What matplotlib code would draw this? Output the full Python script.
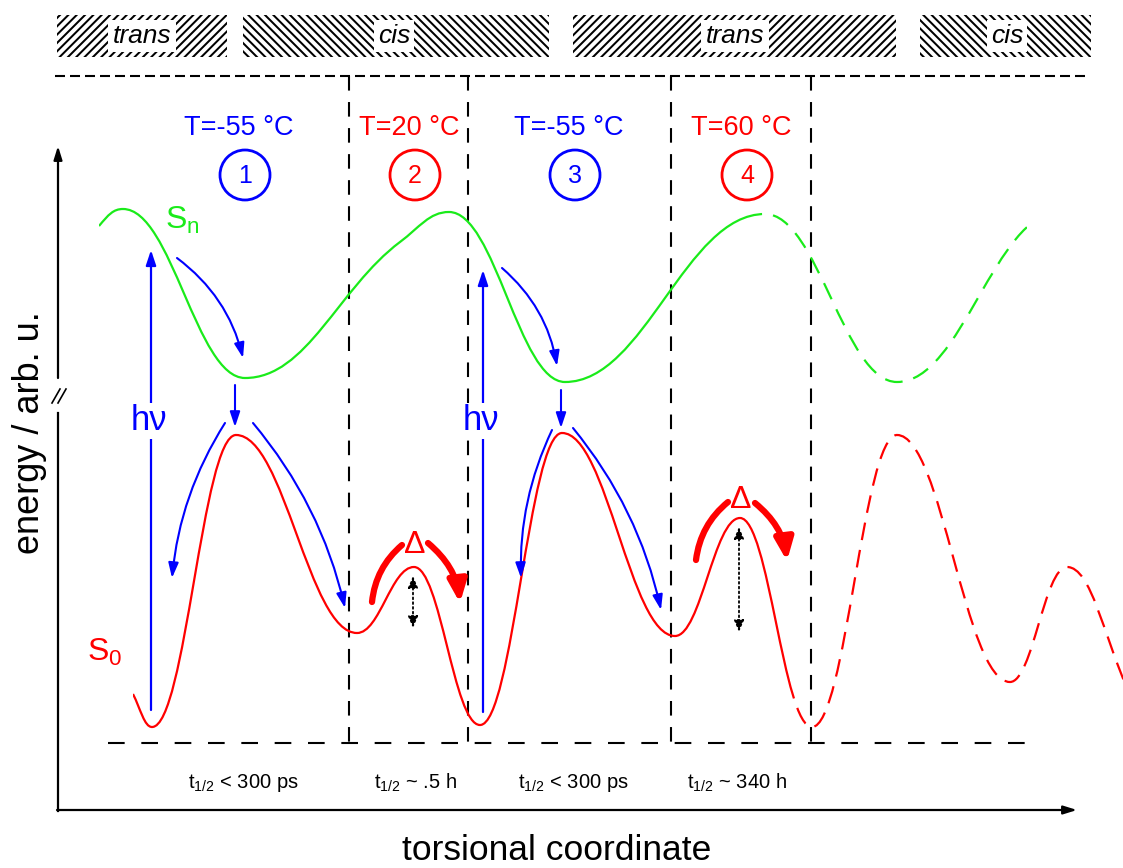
import numpy as np
import matplotlib
matplotlib.use('Agg')
import matplotlib.pyplot as plt
from matplotlib.path import Path
from matplotlib.patches import PathPatch, FancyArrowPatch, Rectangle, Circle, ArrowStyle

plt.rcParams['font.family'] = ['Liberation Sans', 'DejaVu Sans']
plt.rcParams['mathtext.fontset'] = 'custom'
plt.rcParams['mathtext.rm'] = 'Liberation Sans'
plt.rcParams['mathtext.it'] = 'Liberation Sans:italic'
plt.rcParams['hatch.linewidth'] = 1.45

W, H = 1123, 868

# ground state S0: knots (x, y) and tangent slope at each knot
s0_x = [133, 152, 236, 357, 414, 480, 562, 675, 740, 812, 897, 1010, 1067, 1128]
s0_y = [694, 727, 435, 633, 567, 725, 433, 636, 518, 727, 435, 682, 567, 690]
s0_slope = [2.0, 0, 0, 0, 0, 0, 0, 0, 0, 0, 0, 0, 0, 2.2]
s0_solid_end = 790

# excited state Sn
sn_x = [99, 123, 245, 400, 449, 565, 765, 897, 1060]
sn_y = [226, 209, 378, 242, 212, 382, 214, 382, 212]
sn_slope = [-1.2, 0, 0, -0.75, 0, 0, 0, 0, 0]
sn_solid_end = 752
sn_end = 1027

# switching steps
step_x = [245, 415, 575, 747]
step_num = ['1', '2', '3', '4']
step_temp = ['T=-55 °C', 'T=20 °C', 'T=-55 °C', 'T=60 °C']
step_color = ['blue', 'red', 'blue', 'red']
half_life = ['< 300 ps', '~ .5 h', '< 300 ps', '~ 340 h']
half_life_x = [243, 416, 573, 737]

# isomer bands on top
band_left = [57, 243, 573, 920]
band_right = [227, 549, 896, 1091]
band_label = ['trans', 'cis', 'trans', 'cis']
band_label_x = [142, 394, 735, 1007]
band_hatch = ['////', '\\\\\\\\', '////', '\\\\\\\\']

divider_x = [349, 468, 671, 811]

# excitation (h nu) positions and relaxation arrows
hv_x = [151, 483]
hv_bottom = [710, 712]
hv_top = [250, 270]
relax_sn = [((177, 258), (243, 358)), ((502, 268), (557, 366))]
relax_drop = [((235, 385), (235, 427)), ((561, 390), (561, 428))]
relax_left = [((225, 423), (172, 578)), ((552, 430), (521, 578))]
relax_right = [((253, 423), (345, 608)), ((573, 428), (661, 610))]

# thermal barriers crossed by heating
thermal_x = [415, 741]
thermal_top = [545, 500]
thermal_left = [((372, 602), (402, 545)), ((696, 560), (728, 502))]
thermal_right = [((428, 543), (460, 603)), ((755, 503), (787, 561))]
barrier_arrow = [((413, 576), (413, 628)), ((739, 527), (739, 632))]

GREEN = '#1aeb1a'

fig = plt.figure(figsize=(W / 100, H / 100), dpi=100)
ax = fig.add_axes([0, 0, 1, 1])
ax.set_xlim(0, W)
ax.set_ylim(H, 0)
ax.axis('off')


def knot_path(xs, ys, slopes, k=0.4):
    verts = [(xs[0], ys[0])]
    codes = [Path.MOVETO]
    for i in range(len(xs) - 1):
        h = (xs[i + 1] - xs[i]) * k
        verts += [(xs[i] + h, ys[i] + slopes[i] * h),
                  (xs[i + 1] - h, ys[i + 1] - slopes[i + 1] * h),
                  (xs[i + 1], ys[i + 1])]
        codes += [Path.CURVE4] * 3
    return Path(verts, codes)


def draw_curve(xs, ys, slopes, color, x_split, x_end, dash):
    path = knot_path(xs, ys, slopes)
    solid = PathPatch(path, fill=False, ec=color, lw=1.6, zorder=3)
    ax.add_patch(solid)
    solid.set_clip_path(Rectangle((xs[0], 0), x_split - xs[0], H, transform=ax.transData))
    dashed = PathPatch(path, fill=False, ec=color, lw=1.6, ls=(0, dash), zorder=3)
    ax.add_patch(dashed)
    dashed.set_clip_path(Rectangle((x_split, 0), x_end - x_split, H, transform=ax.transData))


def arrow(p0, p1, color, lw=1.5, rad=0.0, hl=9, hw=3, style='-|>', ls='-', z=4):
    if style == '-':
        astyle = ArrowStyle('-')
    else:
        astyle = ArrowStyle(style, head_length=hl, head_width=hw)
    a = FancyArrowPatch(p0, p1, arrowstyle=astyle,
                        connectionstyle=f'arc3,rad={rad}', color=color, lw=lw, ls=ls,
                        shrinkA=0, shrinkB=0, zorder=z)
    ax.add_patch(a)


# trans / cis bands
for l, r, lab, lx, hatch in zip(band_left, band_right, band_label, band_label_x, band_hatch):
    ax.add_patch(Rectangle((l, 15), r - l, 42, fill=False, hatch=hatch, ec='black', lw=0))
    ax.text(lx, 36, lab, style='italic', fontsize=19, ha='center', va='center',
            bbox=dict(facecolor='white', edgecolor='none', pad=3))

# dashed frame lines
ax.plot([55, 1090], [76, 76], color='black', lw=1.5, ls=(0, (4.8, 2.4)))
ax.plot([108, 1040], [743, 743], color='black', lw=1.5, ls=(0, (8, 8)))
for x in divider_x:
    ax.plot([x, x], [76, 743], color='black', lw=1.5, ls=(0, (7, 5.5)))

# axes with break mark
ax.plot([58, 58], [811, 413], color='black', lw=1.6)
arrow((58, 378), (58, 146), 'black', lw=1.6, hl=8, hw=2.5)
arrow((57, 810), (1077, 810), 'black', lw=1.6, hl=8, hw=2.5)
for dx in (0, 6):
    ax.plot([52 + dx, 60 + dx], [403, 389], color='black', lw=1.2)

ax.text(30, 433, 'energy / arb. u.', rotation=90, fontsize=26, ha='center', va='center')
ax.text(557, 851, 'torsional coordinate', fontsize=25.5, ha='center', va='center')

# potential curves
draw_curve(s0_x, s0_y, s0_slope, 'red', s0_solid_end, W, (8, 4.5))
draw_curve(sn_x, sn_y, sn_slope, GREEN, sn_solid_end, sn_end, (8, 5))
ax.text(182, 220, r'S$_\mathrm{n}$', color=GREEN, fontsize=23, ha='center', va='center')
ax.text(105, 652, r'S$_0$', color='red', fontsize=23, ha='center', va='center')

# steps: temperature, number, half-life
for x, num, temp, c in zip(step_x, step_num, step_temp, step_color):
    ax.text(x - 6, 128, temp, color=c, fontsize=19.5, ha='center', va='center')
    ax.add_patch(Circle((x, 175), 25, fill=False, ec=c, lw=2))
    ax.text(x, 176, num, color=c, fontsize=18, ha='center', va='center')
for x, txt in zip(half_life_x, half_life):
    ax.text(x, 783, r't$_{1/2}$ ' + txt, fontsize=14.5, ha='center', va='center')

# photo-excitation and relaxation
for x, yb, yt in zip(hv_x, hv_bottom, hv_top):
    arrow((x, yb), (x, yt), 'blue', lw=1.6)
    ax.text(x - 2, 421, 'hν', color='blue', fontsize=25, ha='center', va='center', zorder=5,
            bbox=dict(facecolor='white', edgecolor='none', pad=1))
for p0, p1 in relax_sn:
    arrow(p0, p1, 'blue', rad=-0.18)
for p0, p1 in relax_drop:
    arrow(p0, p1, 'blue')
for p0, p1 in relax_left:
    arrow(p0, p1, 'blue', rad=0.12)
for p0, p1 in relax_right:
    arrow(p0, p1, 'blue', rad=-0.12)

# thermal isomerisation over the barriers
for x, yt in zip(thermal_x, thermal_top):
    ax.text(x, yt, 'Δ', color='red', fontsize=23, ha='center', va='center', zorder=5)
for p0, p1 in thermal_left:
    arrow(p0, p1, 'red', lw=4.5, rad=-0.2, style='-')
for p0, p1 in thermal_right:
    arrow(p0, p1, 'red', lw=4.5, rad=-0.2, hl=13, hw=5.5)
for p0, p1 in barrier_arrow:
    arrow(p0, p1, 'black', lw=1.3, hl=7, hw=3, style='<|-|>', ls=':')

fig.savefig('out.png', dpi=100)
